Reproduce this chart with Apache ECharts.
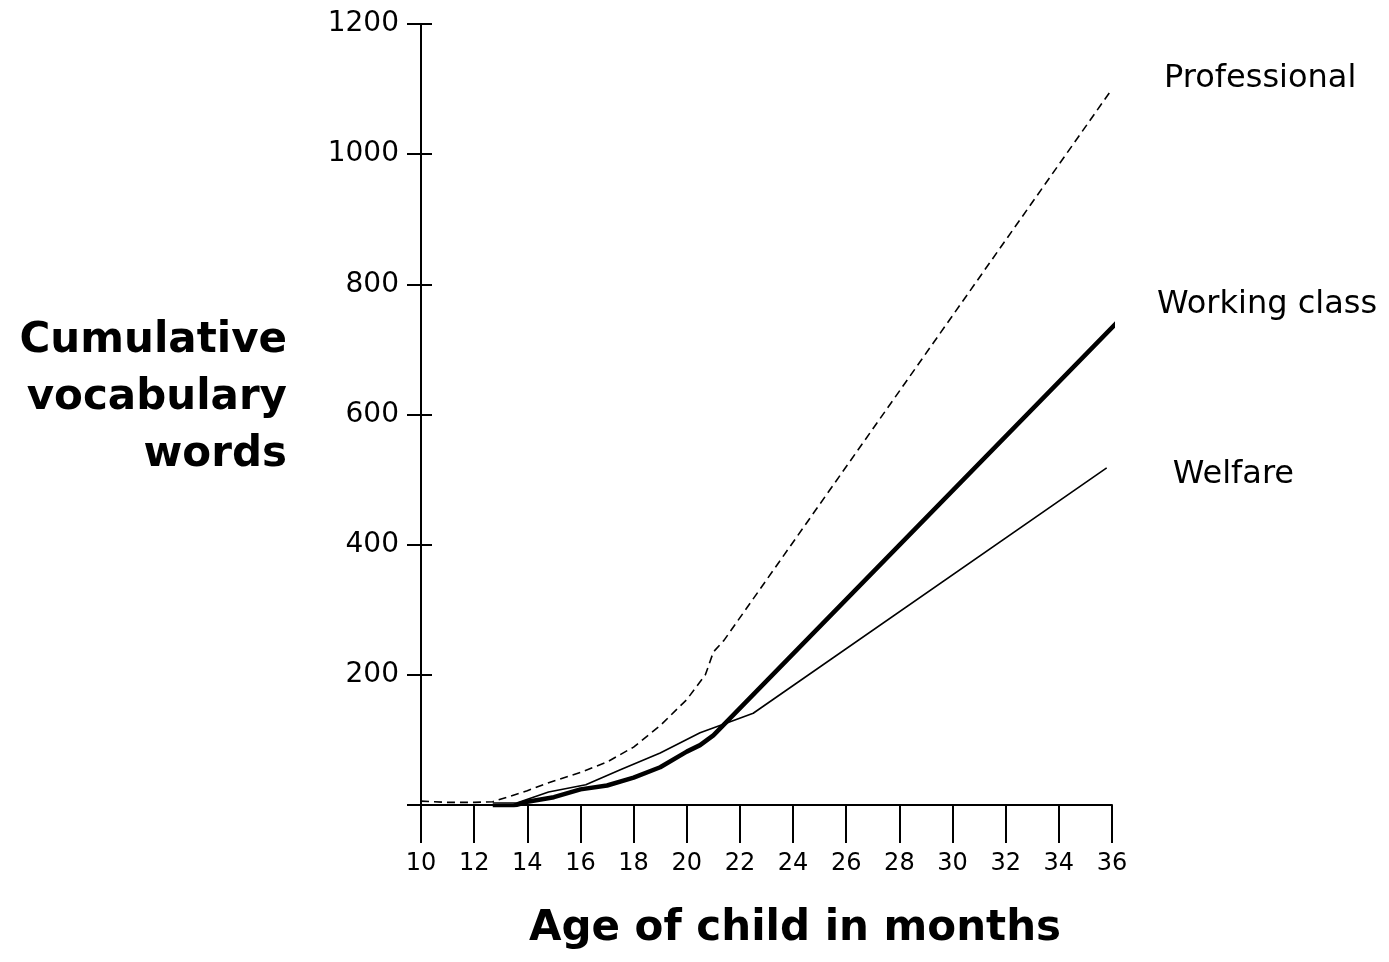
<!DOCTYPE html>
<html>
<head>
<meta charset="utf-8">
<script src="https://cdn.jsdelivr.net/npm/echarts@6/dist/echarts.min.js"></script>
<style>
html,body{margin:0;padding:0;background:#fff;}
#chart{width:1389px;height:962px;}
</style>
</head>
<body>
<div id="chart"></div>
<script>
// Tick labels
const yTicks = [0, 200, 400, 600, 800, 1000, 1200];
const xTicks = [10, 12, 14, 16, 18, 20, 22, 24, 26, 28, 30, 32, 34, 36];

// Professional (dashed)
const profMonths = [10, 11, 12, 12.7, 14, 15, 16, 17, 18, 19, 20, 20.7, 21, 21.4, 36];
const profWords  = [6, 4, 4, 5, 22, 37, 50, 66, 89, 122, 162, 200, 235, 253, 1100];

// Working class (thick)
const workMonths = [12.7, 13.5, 14, 15, 16, 17, 18, 19, 20, 20.5, 21, 36.2];
const workWords  = [-2, -1, 5, 12, 24, 30, 42, 58, 82, 92, 107, 742];

// Welfare (thin)
const welfMonths = [12.7, 13.6, 14.8, 16.2, 17.5, 19, 20.5, 21.3, 22.5, 35.8];
const welfWords  = [3, 3, 20, 31, 54, 80, 111, 123, 141, 518];

const zip = (xs, ys) => xs.map((x, i) => [x, ys[i]]);

const FONT = 'DejaVu Sans';
const chart = echarts.init(document.getElementById('chart'));

chart.setOption({
  backgroundColor: '#fff',
  animation: false,
  textStyle: { fontFamily: FONT, color: '#000' },
  grid: { left: 421, right: 277, top: 24, bottom: 157, containLabel: false },
  xAxis: {
    type: 'value',
    min: xTicks[0],
    max: xTicks[xTicks.length - 1],
    interval: 2,
    axisLine: { show: true, lineStyle: { color: '#000', width: 2 } },
    axisTick: { show: true, inside: false, length: 38, lineStyle: { color: '#000', width: 2 } },
    axisLabel: { margin: 47, fontSize: 24, color: '#000', fontFamily: FONT },
    splitLine: { show: false }
  },
  yAxis: [
    {
      type: 'value',
      min: yTicks[0],
      max: yTicks[yTicks.length - 1],
      interval: 200,
      axisLine: { show: true, onZero: false, lineStyle: { color: '#000', width: 2 } },
      axisTick: { show: true, inside: false, length: 14, lineStyle: { color: '#000', width: 2 } },
      axisLabel: { margin: 22, fontSize: 28, color: '#000', fontFamily: FONT,
        formatter: v => (v === 0 ? '' : String(v)) },
      splitLine: { show: false }
    },
    {
      type: 'value',
      position: 'left',
      min: yTicks[0],
      max: yTicks[yTicks.length - 1],
      interval: 200,
      axisLine: { show: false },
      axisTick: { show: true, inside: true, length: 11, lineStyle: { color: '#000', width: 2 } },
      axisLabel: { show: false },
      splitLine: { show: false }
    }
  ],
  series: [
    {
      name: 'Professional',
      type: 'line',
      data: zip(profMonths, profWords),
      showSymbol: false,
      symbol: 'none',
      lineStyle: { color: '#000', width: 1.6, type: [8, 5] },
      endLabel: { show: true, formatter: 'Professional', fontSize: 32, color: '#000',
        fontFamily: FONT, offset: [44, -10] }
    },
    {
      name: 'Working class',
      type: 'line',
      data: zip(workMonths, workWords),
      showSymbol: false,
      symbol: 'none',
      lineStyle: { color: '#000', width: 4.5 },
      endLabel: { show: true, formatter: 'Working class', fontSize: 32, color: '#000',
        fontFamily: FONT, offset: [34, -20] }
    },
    {
      name: 'Welfare',
      type: 'line',
      data: zip(welfMonths, welfWords),
      showSymbol: false,
      symbol: 'none',
      lineStyle: { color: '#000', width: 1.6 },
      endLabel: { show: true, formatter: 'Welfare', fontSize: 32, color: '#000',
        fontFamily: FONT, offset: [58, 7] }
    }
  ],
  graphic: [
    {
      type: 'text',
      style: {
        x: 287,
        y: 341,
        text: 'Cumulative\nvocabulary\nwords',
        font: 'bold 42px "DejaVu Sans"',
        fill: '#000',
        align: 'right',
        verticalAlign: 'top',
        lineHeight: 57
      },
      y: -28
    },
    {
      type: 'text',
      style: {
        x: 795,
        y: 929,
        text: 'Age of child in months',
        font: 'bold 42px "DejaVu Sans"',
        fill: '#000',
        align: 'center',
        verticalAlign: 'middle'
      }
    }
  ]
});
</script>
</body>
</html>
